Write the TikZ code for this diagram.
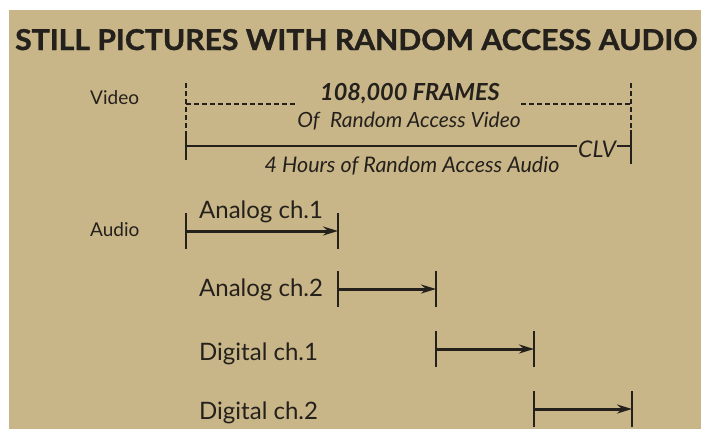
\documentclass[tikz,border=0pt]{standalone}
\usepackage{fontspec}
\setmainfont{Lato}
\newfontfamily\titlefont{Lato}[BoldFeatures={FakeBold=1.2}]
\usetikzlibrary{arrows.meta,positioning}
\definecolor{paper}{RGB}{201,182,136}
\definecolor{ink}{RGB}{36,32,28}

\begin{document}
\begin{tikzpicture}[
    x=1pt, y=-1pt,
    lbl/.style={font=\fontsize{19}{19}\selectfont, text=ink, inner sep=0pt, anchor=base west},
    chan/.style={font=\fontsize{24}{24}\selectfont, text=ink, inner sep=0pt, anchor=base west},
    note/.style={font=\itshape\fontsize{21.5}{21.5}\selectfont, text=ink, inner sep=0pt, anchor=base},
    dashline/.style={draw=ink, line width=1.6pt, dash pattern=on 5pt off 3pt},
    solidline/.style={draw=ink, line width=1.6pt},
    tick/.style={draw=ink, line width=2pt},
    span/.style={draw=ink, line width=3pt, -{Stealth[length=15pt,width=9pt,inset=5pt]}}
]
\useasboundingbox (0,0) rectangle (701,429);
\fill[paper] (9,10) rectangle (701,429);

% title
\node[anchor=base west, inner sep=0pt, text=ink] (title) at (15,50)
    {\resizebox{682pt}{21pt}{\titlefont\bfseries STILL PICTURES WITH RANDOM ACCESS AUDIO}};

% video part
\node[lbl] (video) at (90,104) {Video};
\node[note, font=\bfseries\itshape\fontsize{23.5}{23.5}\selectfont] (frames) at (410,100) {108,000 FRAMES};
\node[note, font=\itshape\fontsize{21}{21}\selectfont] (ofvid) at (409,127) {Of\enspace Random Access Video};
\node[note] (hours) at (412,172) {4 Hours of Random Access Audio};
\node[note, font=\itshape\fontsize{23}{23}\selectfont, anchor=base west] (clv) at (578,157) {CLV};

\coordinate (vtl) at (186,83);
\coordinate (vtr) at (631,83);
\coordinate (vdl) at (186,104);
\coordinate (vdr) at (631,104);
\coordinate (vsl) at (186,146);
\coordinate (vsr) at (631,146);

\draw[dashline] (vtl) -- ++(0,49);
\draw[dashline] (vtr) -- ++(0,49);
\draw[tick] (vsl) ++(0,-14) -- ++(0,28);
\draw[tick] (vsr) ++(0,-16) -- ++(0,34);
\draw[dashline] (vdl) -- (vdl -| ofvid.west);
\draw[dashline] (vdl -| ofvid.east) -- (vdr);
\draw[solidline] (vsl) -- ([xshift=-1pt]vsl -| clv.west);
\draw[solidline] ([xshift=1pt]vsr -| clv.east) -- (vsr);

% audio part
\node[lbl] (audio) at (90,236) {Audio};

\coordinate (a0) at (186,231);
\coordinate (a1) at (338,231);
\coordinate (b0) at (338,289);
\coordinate (b1) at (436,289);
\coordinate (c0) at (436,349);
\coordinate (c1) at (534,349);
\coordinate (d0) at (534,409);
\coordinate (d1) at (632,409);

\node[chan] (ana1) at (199,218) {Analog ch.1};
\node[chan] (ana2) at (199,296) {Analog ch.2};
\node[chan] (dig1) at (199,360) {Digital ch.1};
\node[chan] (dig2) at (199,419) {Digital ch.2};

\draw[span] (a0) -- (a1);
\draw[span] (b0) -- (b1);
\draw[span] (c0) -- (c1);
\draw[span] (d0) -- (d1);

\foreach \p in {a0,a1,b0,b1,c0,c1,d0,d1}
    \draw[tick] (\p) ++(0,-18) -- ++(0,36);
\end{tikzpicture}
\end{document}
